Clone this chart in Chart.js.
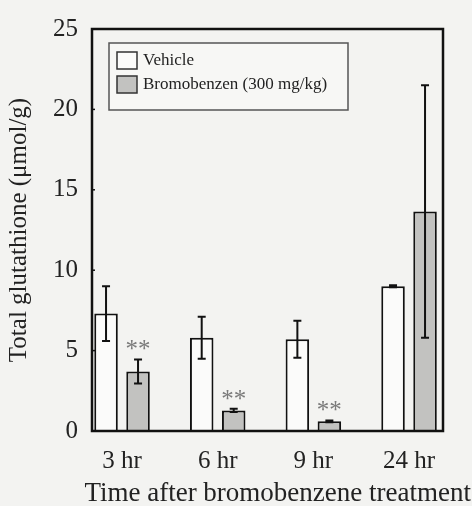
<!DOCTYPE html>
<html><head><meta charset="utf-8">
<script src="https://cdn.jsdelivr.net/npm/chart.js@4.4.0/dist/chart.umd.min.js"></script>
<style>html,body{margin:0;padding:0;background:#f3f3f1;}</style>
</head><body>
<canvas id="c" width="472" height="506"></canvas>
<script>
const categories = ['3 hr', '6 hr', '9 hr', '24 hr'];
const seriesNames = ['Vehicle', 'Bromobenzen (300 mg/kg)'];
const vehicle = [7.3, 5.8, 5.7, 9.0];
const vehicleErr = [1.7, 1.3, 1.15, 0.06];
const bromo = [3.7, 1.28, 0.6, 13.65];
const bromoErr = [0.75, 0.1, 0.06, 7.85];
const bromoSig = ['**', '**', '**', ''];
const yTicks = [0, 5, 10, 15, 20, 25];
const yTitle = 'Total glutathione (\u03bcmol/g)';
const xTitle = 'Time after bromobenzene treatment';

const FONT = '"Liberation Serif", "Times New Roman", serif';
const INK = '#222';

const framePlugin = {
  id: 'frame',
  afterDatasetsDraw(chart) {
    const ctx = chart.ctx, a = chart.chartArea, y = chart.scales.y;
    ctx.save();
    ctx.strokeStyle = '#111';
    ctx.lineWidth = 2.5;
    ctx.strokeRect(a.left, a.top, a.right - a.left, a.bottom - a.top);
    ctx.lineWidth = 1.5;
    yTicks.forEach(t => {
      const py = y.getPixelForValue(t);
      ctx.beginPath(); ctx.moveTo(a.left, py); ctx.lineTo(a.left + 3, py); ctx.stroke();
    });
    chart.data.datasets.forEach((ds, di) => {
      const meta = chart.getDatasetMeta(di);
      meta.data.forEach((bar, i) => {
        const v = ds.data[i].y, e = ds.errors[i];
        const x = bar.x;
        const top = y.getPixelForValue(v + e), bot = y.getPixelForValue(v - e);
        ctx.strokeStyle = '#111';
        ctx.lineWidth = 2;
        ctx.beginPath();
        ctx.moveTo(x, top); ctx.lineTo(x, bot);
        ctx.moveTo(x - 4, top); ctx.lineTo(x + 4, top);
        ctx.moveTo(x - 4, bot); ctx.lineTo(x + 4, bot);
        ctx.stroke();
        if (ds.sig && ds.sig[i]) {
          ctx.fillStyle = '#7a7a7a';
          ctx.font = '25px ' + FONT;
          ctx.textAlign = 'center';
          ctx.textBaseline = 'alphabetic';
          ctx.fillText(ds.sig[i], x, top - 2);
        }
      });
    });
    ctx.restore();
  },
  afterDraw(chart) {
    const ctx = chart.ctx, a = chart.chartArea;
    const lx = a.left + 17, ly = a.top + 14, lw = 239, lh = 67;
    ctx.save();
    ctx.fillStyle = '#f7f7f5';
    ctx.fillRect(lx, ly, lw, lh);
    ctx.strokeStyle = '#555';
    ctx.lineWidth = 1.5;
    ctx.strokeRect(lx, ly, lw, lh);
    chart.data.datasets.forEach((ds, i) => {
      const my = ly + 9 + i * 24;
      ctx.fillStyle = ds.backgroundColor;
      ctx.fillRect(lx + 8, my, 20, 17);
      ctx.strokeStyle = '#333';
      ctx.lineWidth = 1.5;
      ctx.strokeRect(lx + 8, my, 20, 17);
      ctx.fillStyle = INK;
      ctx.font = '17px ' + FONT;
      ctx.textAlign = 'left';
      ctx.textBaseline = 'middle';
      ctx.fillText(ds.label, lx + 34, my + 9);
    });
    // x-axis title, right-aligned to the page edge as in the reference
    ctx.fillStyle = INK;
    ctx.font = '27px ' + FONT;
    ctx.textAlign = 'right';
    ctx.textBaseline = 'middle';
    ctx.fillText(xTitle, chart.width - 1, 494);
    ctx.restore();
  }
};

new Chart(document.getElementById('c'), {
  type: 'bar',
  data: {
    datasets: [
      {
        label: seriesNames[0],
        data: categories.map((c, i) => ({ x: i, y: vehicle[i] })),
        errors: vehicleErr,
        backgroundColor: '#fbfbfa',
        borderColor: '#111',
        borderWidth: 2
      },
      {
        label: seriesNames[1],
        data: categories.map((c, i) => ({ x: i, y: bromo[i] })),
        errors: bromoErr,
        sig: bromoSig,
        backgroundColor: '#c2c2c0',
        borderColor: '#111',
        borderWidth: 2
      }
    ]
  },
  options: {
    responsive: false,
    animation: false,
    categoryPercentage: 0.669,
    barPercentage: 0.735,
    layout: { padding: { left: 0, right: 29, top: 20, bottom: 0 } },
    plugins: {
      legend: { display: false },
      tooltip: { enabled: false },
      title: { display: false }
    },
    scales: {
      x: {
        type: 'linear',
        offset: false,
        min: -0.314,
        max: 3.355,
        grid: { display: false, drawTicks: false, offset: false },
        border: { display: false },
        afterBuildTicks(s) { s.ticks = categories.map((c, i) => ({ value: i })); },
        afterFit(s) { s.height = 75; },
        ticks: {
          padding: 15,
          color: INK,
          font: { family: FONT, size: 25 },
          callback: (v) => categories[v] ?? ''
        }
      },
      y: {
        min: 0,
        max: 25,
        grid: { display: false, drawTicks: false },
        border: { display: false },
        afterBuildTicks(s) { s.ticks = yTicks.map(v => ({ value: v })); },
        afterFit(s) { s.width = 92; },
        ticks: { padding: 14, color: INK, font: { family: FONT, size: 25 } },
        title: {
          display: true,
          text: yTitle,
          color: INK,
          font: { family: FONT, size: 25, weight: 'normal' },
          padding: { top: 4, bottom: 0 }
        }
      }
    }
  },
  plugins: [framePlugin]
});
</script>
</body></html>
